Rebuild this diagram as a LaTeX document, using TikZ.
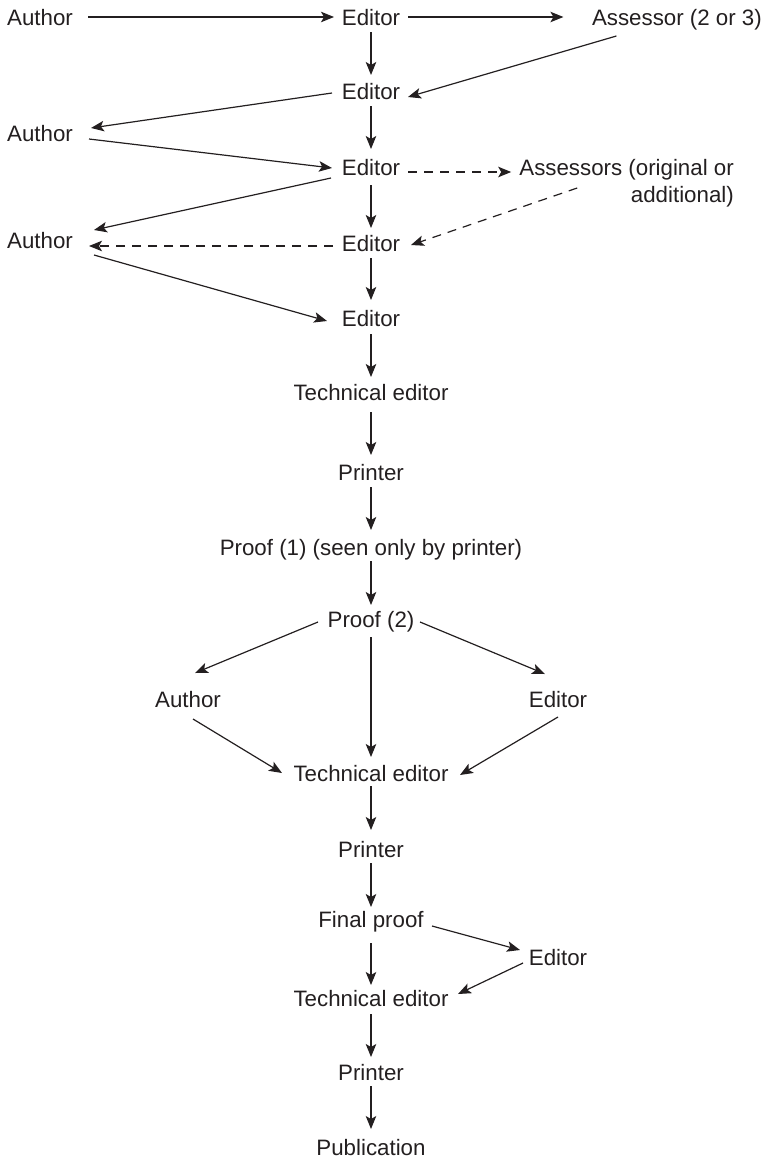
\documentclass[tikz,border=0pt]{standalone}
\usepackage{fontspec}
\setmainfont{Liberation Sans}
\usetikzlibrary{arrows.meta,calc}
\definecolor{ink}{RGB}{35,31,32}
\begin{document}
\begin{tikzpicture}[x=1pt,y=-1pt,
  lbl/.style={inner sep=0pt, text height=16pt, text depth=0pt, text=ink,
    font=\fontsize{22.3}{27}\selectfont},
  arr/.style={draw=ink, line width=1.2pt, -{Stealth[length=13pt,width=10.5pt,inset=3pt]}},
  dsh/.style={arr, dash pattern=on 9pt off 7pt}]
\useasboundingbox (0,0) rectangle (771,1159);
% nodes
\node[lbl] (a1) at (40,17) {Author};
\node[lbl] (e1) at (371,17) {Editor};
\node[lbl, anchor=east] (s1) at (762,17) {Assessor (2 or 3)};
\node[lbl] (e2) at (371,91) {Editor};
\node[lbl] (a3) at (40,133) {Author};
\node[lbl] (e3) at (371,167) {Editor};
\node[inner sep=0pt, text=ink, align=right, anchor=north east,
  font=\fontsize{22.3}{27}\selectfont] (s3) at (734,159) {Assessors (original or\\additional)};
\node[lbl] (a4) at (40,240) {Author};
\node[lbl] (e4) at (371,243) {Editor};
\node[lbl] (e5) at (371,318) {Editor};
\node[lbl] (t1) at (371,392) {Technical editor};
\node[lbl] (p1) at (371,472) {Printer};
\node[lbl] (q1) at (371,547) {Proof (1) (seen only by printer)};
\node[lbl] (q2) at (371,619) {Proof (2)};
\node[lbl] (a6) at (188,699) {Author};
\node[lbl] (e6) at (558,699) {Editor};
\node[lbl] (t2) at (371,773) {Technical editor};
\node[lbl] (p2) at (371,849) {Printer};
\node[lbl] (f) at (371,919) {Final proof};
\node[lbl] (e7) at (558,957) {Editor};
\node[lbl] (t3) at (371,998) {Technical editor};
\node[lbl] (p3) at (371,1072) {Printer};
\node[lbl] (pub) at (371,1147) {Publication};
% connectors
\draw[arr] ($(a1)+(48,0)$) -- ($(e1)+(-37,0)$);
\draw[arr] ($(e1)+(37,0)$) -- ($(s1)+(-113.5,0)$);
\draw[arr] ($(e1)+(0,15)$) -- ($(e2)+(0,-16)$);
\draw[arr] ($(s1)+(-60.5,19)$) -- ($(e2)+(37,6)$);
\draw[arr] ($(e2)+(-39,2)$) -- ($(a3)+(51,-5)$);
\draw[arr] ($(e2)+(0,15)$) -- ($(e3)+(0,-18)$);
\draw[arr] ($(a3)+(49,6)$) -- ($(e3)+(-39,1)$);
\draw[dsh] ($(e3)+(37,5)$) -- ($(s3.north west)+(-8,13)$);
\draw[dsh] ($(s3.north west)+(58,29)$) -- ($(e4)+(40,2)$);
\draw[arr] ($(e3)+(-40,11)$) -- ($(a4)+(54,-10)$);
\draw[arr] ($(e3)+(0,18)$) -- ($(e4)+(0,-15)$);
\draw[dsh] ($(e4)+(-38,3)$) -- ($(a4)+(49,6)$);
\draw[arr] ($(e4)+(0,15)$) -- ($(e5)+(0,-18)$);
\draw[arr] ($(a4)+(54,15)$) -- ($(e5)+(-44,3)$);
\draw[arr] ($(e5)+(0,16)$) -- ($(t1)+(0,-15)$);
\draw[arr] ($(t1)+(0,20)$) -- ($(p1)+(0,-17)$);
\draw[arr] ($(p1)+(0,15)$) -- ($(q1)+(0,-17)$);
\draw[arr] ($(q1)+(0,14)$) -- ($(q2)+(0,-14)$);
\draw[arr] ($(q2)+(-53,3)$) -- ($(a6)+(7,-26)$);
\draw[arr] ($(q2)+(49,3)$) -- ($(e6)+(-13,-25)$);
\draw[arr] ($(q2)+(0,18)$) -- ($(t2)+(0,-16)$);
\draw[arr] ($(a6)+(5,20)$) -- ($(t2)+(-89,0)$);
\draw[arr] ($(e6)+(0,18)$) -- ($(t2)+(89,2)$);
\draw[arr] ($(t2)+(0,13)$) -- ($(p2)+(0,-19)$);
\draw[arr] ($(p2)+(0,14)$) -- ($(f)+(0,-12)$);
\draw[arr] ($(f)+(61,7)$) -- ($(e7)+(-38,-7)$);
\draw[arr] ($(e7)+(-35,6)$) -- ($(t3)+(87,-4)$);
\draw[arr] ($(f)+(0,24)$) -- ($(t3)+(0,-13)$);
\draw[arr] ($(t3)+(0,16)$) -- ($(p3)+(0,-15)$);
\draw[arr] ($(p3)+(0,14)$) -- ($(pub)+(0,-18)$);
\end{tikzpicture}
\end{document}
